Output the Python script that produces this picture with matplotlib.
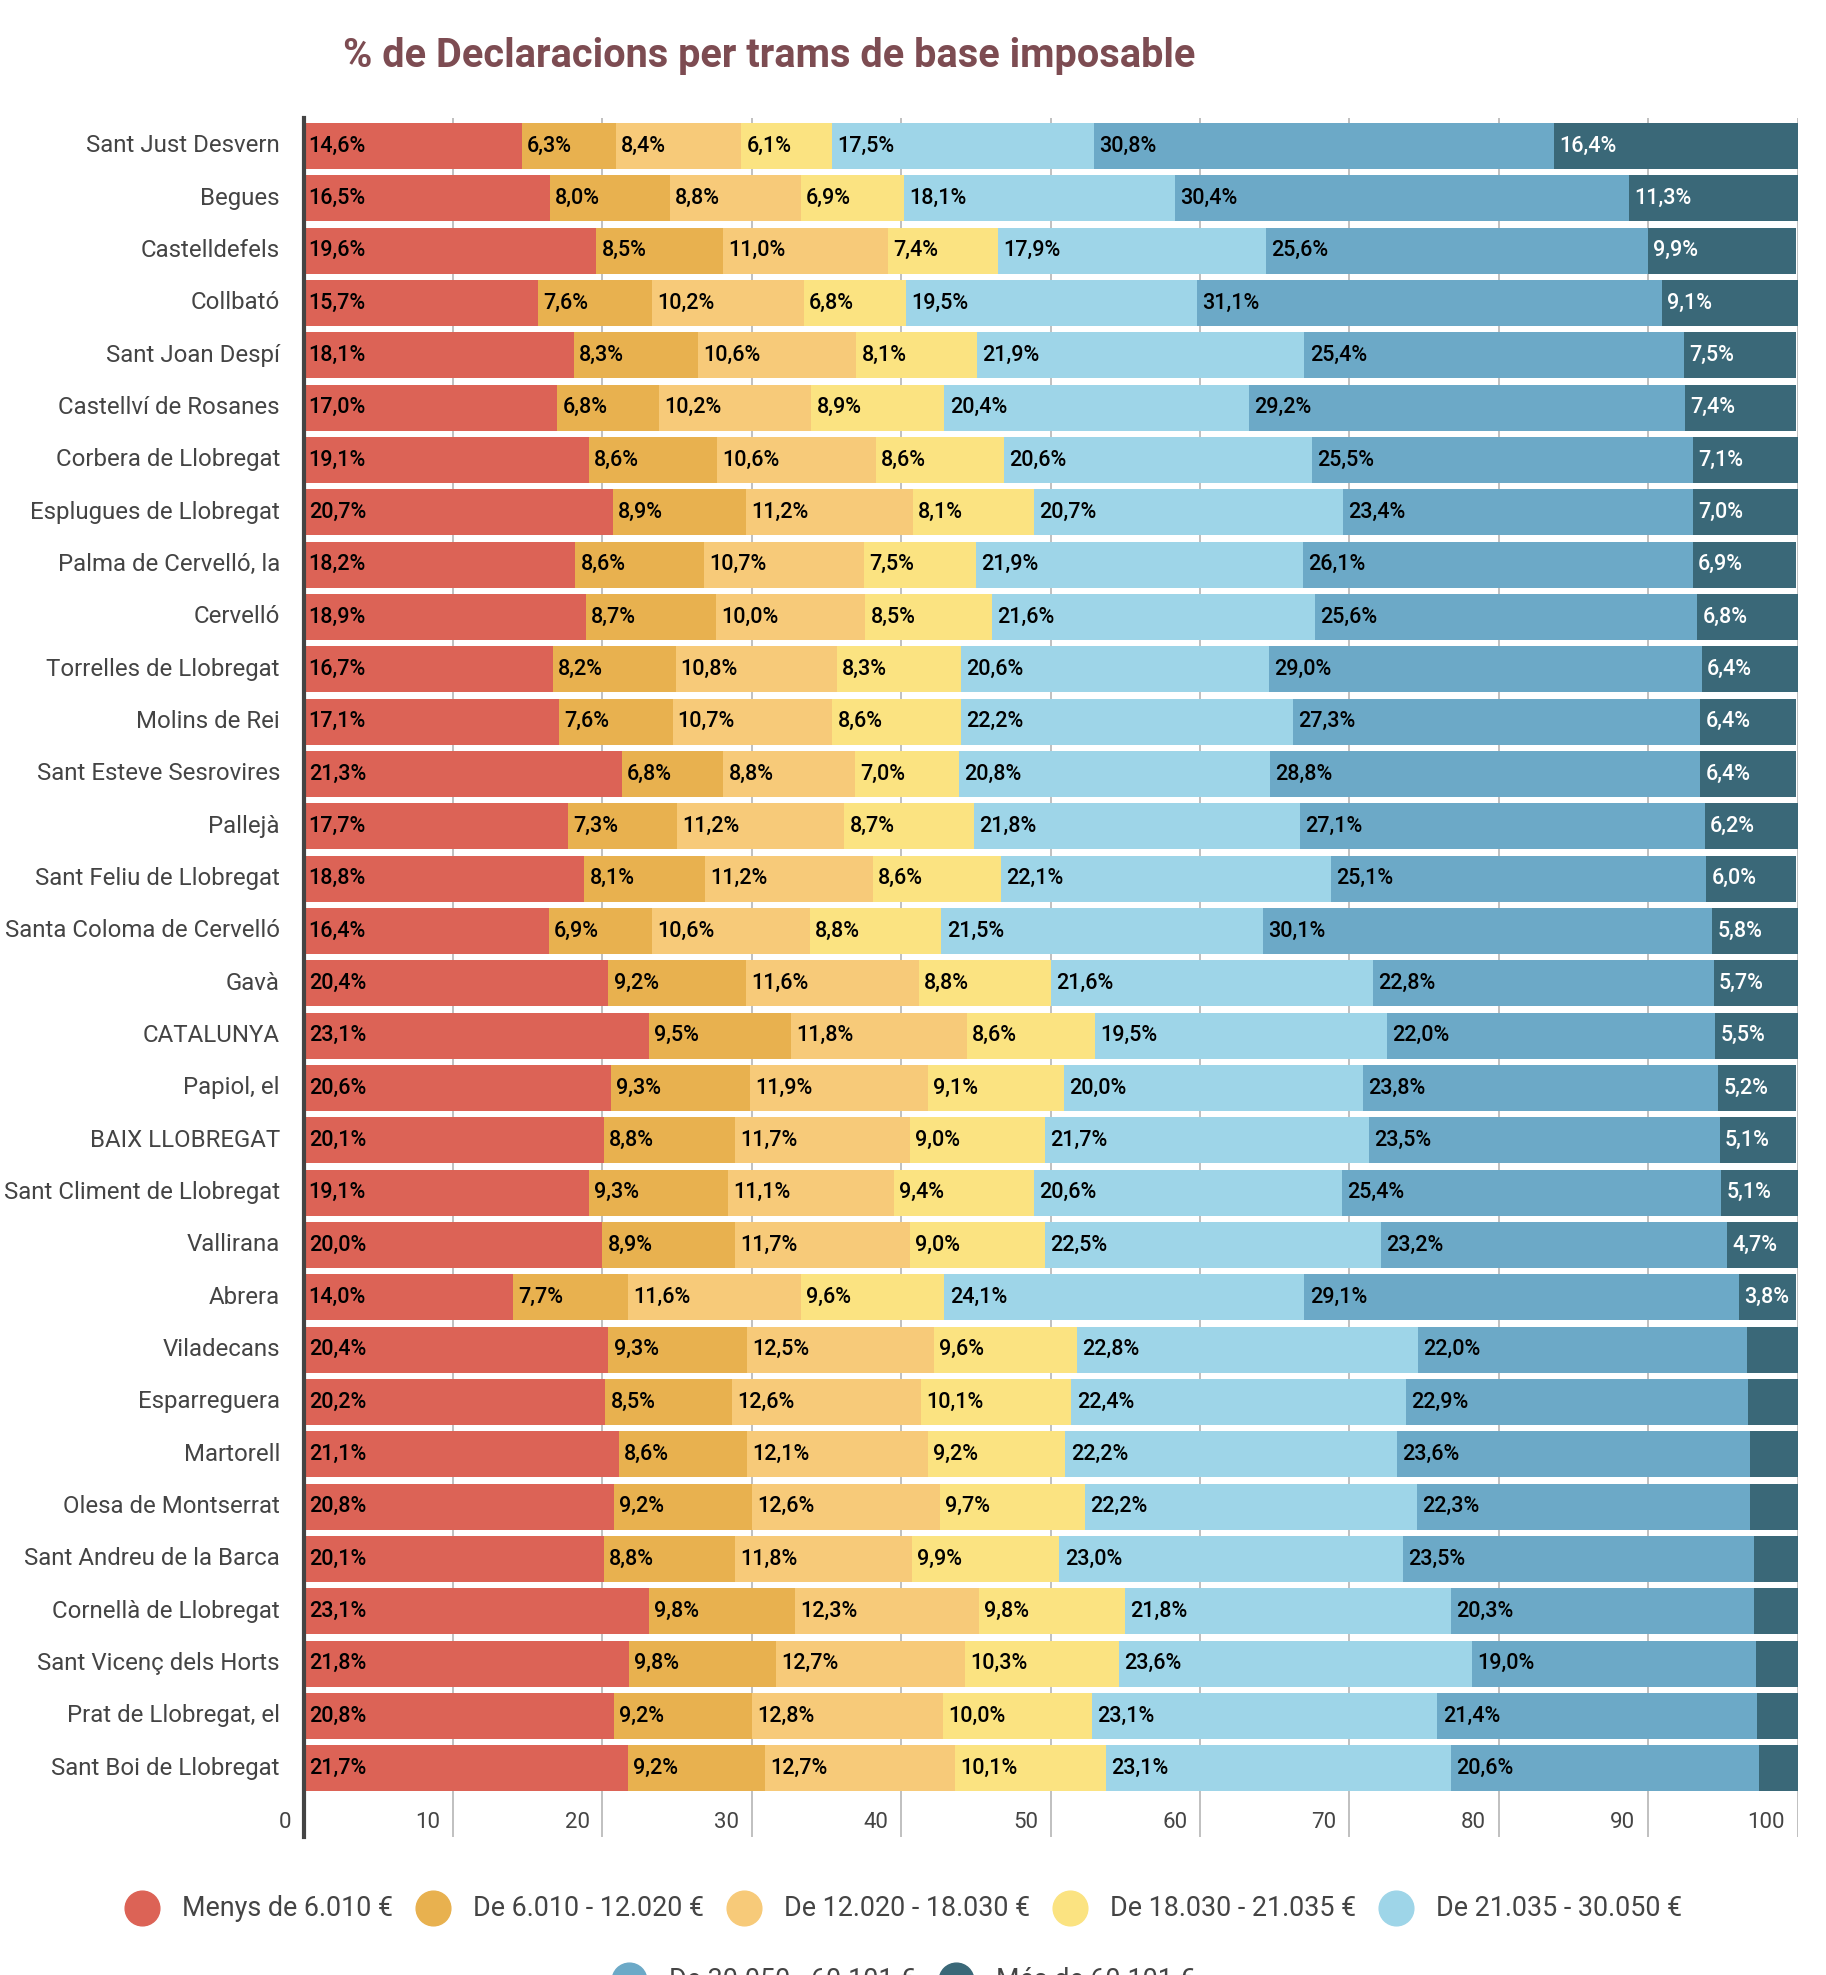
import matplotlib
matplotlib.use("Agg")
import matplotlib.pyplot as plt
from matplotlib.lines import Line2D

plt.rcParams['font.family'] = ['Roboto', 'DejaVu Sans']

municipis = [
    "Sant Just Desvern", "Begues", "Castelldefels", "Collbató", "Sant Joan Despí",
    "Castellví de Rosanes", "Corbera de Llobregat", "Esplugues de Llobregat",
    "Palma de Cervelló, la", "Cervelló", "Torrelles de Llobregat", "Molins de Rei",
    "Sant Esteve Sesrovires", "Pallejà", "Sant Feliu de Llobregat",
    "Santa Coloma de Cervelló", "Gavà", "CATALUNYA", "Papiol, el", "BAIX LLOBREGAT",
    "Sant Climent de Llobregat", "Vallirana", "Abrera", "Viladecans", "Esparreguera",
    "Martorell", "Olesa de Montserrat", "Sant Andreu de la Barca",
    "Cornellà de Llobregat", "Sant Vicenç dels Horts", "Prat de Llobregat, el",
    "Sant Boi de Llobregat",
]

trams = [
    "Menys de 6.010 €", "De 6.010 - 12.020 €", "De 12.020 - 18.030 €",
    "De 18.030 - 21.035 €", "De 21.035 - 30.050 €", "De 30.050 - 60.101 €",
    "Més de 60.101 €",
]

menys_6010 = [14.6, 16.5, 19.6, 15.7, 18.1, 17.0, 19.1, 20.7, 18.2, 18.9, 16.7, 17.1, 21.3, 17.7, 18.8, 16.4,
              20.4, 23.1, 20.6, 20.1, 19.1, 20.0, 14.0, 20.4, 20.2, 21.1, 20.8, 20.1, 23.1, 21.8, 20.8, 21.7]
de_6010_12020 = [6.3, 8.0, 8.5, 7.6, 8.3, 6.8, 8.6, 8.9, 8.6, 8.7, 8.2, 7.6, 6.8, 7.3, 8.1, 6.9,
                 9.2, 9.5, 9.3, 8.8, 9.3, 8.9, 7.7, 9.3, 8.5, 8.6, 9.2, 8.8, 9.8, 9.8, 9.2, 9.2]
de_12020_18030 = [8.4, 8.8, 11.0, 10.2, 10.6, 10.2, 10.6, 11.2, 10.7, 10.0, 10.8, 10.7, 8.8, 11.2, 11.2, 10.6,
                  11.6, 11.8, 11.9, 11.7, 11.1, 11.7, 11.6, 12.5, 12.6, 12.1, 12.6, 11.8, 12.3, 12.7, 12.8, 12.7]
de_18030_21035 = [6.1, 6.9, 7.4, 6.8, 8.1, 8.9, 8.6, 8.1, 7.5, 8.5, 8.3, 8.6, 7.0, 8.7, 8.6, 8.8,
                  8.8, 8.6, 9.1, 9.0, 9.4, 9.0, 9.6, 9.6, 10.1, 9.2, 9.7, 9.9, 9.8, 10.3, 10.0, 10.1]
de_21035_30050 = [17.5, 18.1, 17.9, 19.5, 21.9, 20.4, 20.6, 20.7, 21.9, 21.6, 20.6, 22.2, 20.8, 21.8, 22.1, 21.5,
                  21.6, 19.5, 20.0, 21.7, 20.6, 22.5, 24.1, 22.8, 22.4, 22.2, 22.2, 23.0, 21.8, 23.6, 23.1, 23.1]
de_30050_60101 = [30.8, 30.4, 25.6, 31.1, 25.4, 29.2, 25.5, 23.4, 26.1, 25.6, 29.0, 27.3, 28.8, 27.1, 25.1, 30.1,
                  22.8, 22.0, 23.8, 23.5, 25.4, 23.2, 29.1, 22.0, 22.9, 23.6, 22.3, 23.5, 20.3, 19.0, 21.4, 20.6]
mes_60101 = [16.4, 11.3, 9.9, 9.1, 7.5, 7.4, 7.1, 7.0, 6.9, 6.8, 6.4, 6.4, 6.4, 6.2, 6.0, 5.8,
             5.7, 5.5, 5.2, 5.1, 5.1, 4.7, 3.8, 3.4, 3.3, 3.2, 3.2, 2.9, 2.9, 2.8, 2.7, 2.6]

series = [menys_6010, de_6010_12020, de_12020_18030, de_18030_21035,
          de_21035_30050, de_30050_60101, mes_60101]
colors = ["#DC6356", "#E8B14F", "#F7CA79", "#FBE381", "#9ED5E8", "#6CA9C7", "#3A6878"]
label_colors = ["black"] * 6 + ["white"]

W, H = 1826, 1975
DPI = 100
fig = plt.figure(figsize=(W / DPI, H / DPI), dpi=DPI)

# plot area in pixels
left, right, top, bottom = 303.5, 1797.5, 118, 1837
ax = fig.add_axes([left / W, 1 - bottom / H, (right - left) / W, (bottom - top) / H])

pitch = 52.33
first_center = 123 + 23
ax.set_xlim(0, 100)
ax.set_ylim((bottom - first_center) / pitch, -(first_center - top) / pitch)

for g in range(10, 101, 10):
    ax.axvline(g, color="#b5b5b5", lw=1.2, zorder=0)

n = len(municipis)
ypos = list(range(n))
cum = [0.0] * n
for vals, col, lc in zip(series, colors, label_colors):
    ax.barh(ypos, vals, left=cum, height=46 / pitch, color=col, zorder=2)
    for i, v in enumerate(vals):
        if v >= 3.5:
            ax.text(cum[i] + 0.35, i, f"{v:.1f}".replace(".", ",") + "%",
                    ha="left", va="center", fontsize=15.5, fontweight="medium",
                    color=lc, zorder=3)
    cum = [c + v for c, v in zip(cum, vals)]

for i, name in enumerate(municipis):
    ax.text(-1.58, i, name, ha="right", va="center", fontsize=17.3, color="#444444")

tick_y = (1822 - first_center) / pitch
for t in range(0, 101, 10):
    ax.text(t - 0.85, tick_y, str(t), ha="right", va="center", fontsize=16, color="#444444")

ax.set_xticks([])
ax.set_yticks([])
for s in ["top", "right", "bottom"]:
    ax.spines[s].set_visible(False)
ax.spines["left"].set_color("#444444")
ax.spines["left"].set_linewidth(3)
ax.patch.set_visible(False)

fig.text(343 / W, 1 - 56 / H, "% de Declaracions per trams de base imposable",
         ha="left", va="center", fontsize=28.6, fontweight="bold", color="#7D4C52")

# legend, laid out like the original (two centered rows)
renderer = fig.canvas.get_renderer()
rows = [list(range(5)), [5, 6]]
row_y = [1908, 1980]
r = 17.5
gap_marker_text = 40
gap_text_marker = 40
for row, yy in zip(rows, row_y):
    items = []
    for k in row:
        t = fig.text(0, 1 - yy / H, trams[k], ha="left", va="center", fontsize=19.4, color="#444444")
        w = t.get_window_extent(renderer=renderer).width
        items.append((k, t, w))
    total = r + sum(gap_marker_text + w for _, _, w in items) + gap_text_marker * (len(items) - 1)
    x = 903 - total / 2 + r
    for k, t, w in items:
        fig.add_artist(Line2D([x / W], [1 - yy / H], marker="o", markersize=25, color=colors[k],
                              linestyle="none", transform=fig.transFigure))
        t.set_x((x + gap_marker_text) / W)
        x = x + gap_marker_text + w + gap_text_marker

fig.savefig("out.png", dpi=DPI)
